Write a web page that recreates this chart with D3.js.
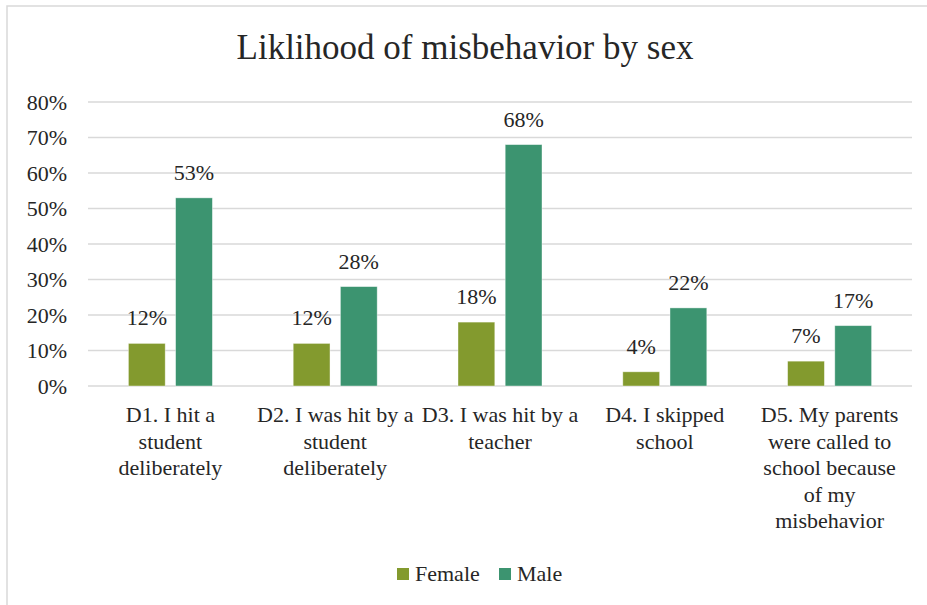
<!DOCTYPE html>
<html>
<head>
<meta charset="utf-8">
<script src="https://cdn.jsdelivr.net/npm/d3@7"></script>
</head>
<body style="margin:0">
<svg id="s" width="927" height="605"></svg>
<script>
// Survey items (each entry is one wrapped label line list)
const categories = [
  ["D1. I hit a", "student", "deliberately"],
  ["D2. I was hit by a", "student", "deliberately"],
  ["D3. I was hit by a", "teacher"],
  ["D4. I skipped", "school"],
  ["D5. My parents", "were called to", "school because", "of my", "misbehavior"]
];
const seriesNames = ["Female", "Male"];
const femaleValues = [12, 12, 18, 4, 7];
const maleValues = [53, 28, 68, 22, 17];
const yTicks = [0, 10, 20, 30, 40, 50, 60, 70, 80];
const colors = ["#839a2e", "#3c9470"];

const FONT = "Liberation Serif";
const TEXT_COLOR = "#262626";

const svg = d3.select("#s").attr("font-family", FONT);
const margin = { left: 88, right: 15, top: 102, bottom: 219 };
const W = 927, H = 605;
const plotW = W - margin.left - margin.right;
const plotH = H - margin.top - margin.bottom;

// Outer chart border
svg.append("rect")
  .attr("x", 7).attr("y", 6).attr("width", 940).attr("height", 640)
  .attr("fill", "none").attr("stroke", "#d9d9d9").attr("stroke-width", 1.5);

// Title
svg.append("text")
  .attr("x", 465).attr("y", 59)
  .attr("text-anchor", "middle")
  .style("font-family", FONT)
  .style("font-size", "35px")
  .style("fill", TEXT_COLOR)
  .text("Liklihood of misbehavior by sex");

const g = svg.append("g").attr("transform", `translate(${margin.left},${margin.top})`);

const x0 = d3.scaleBand().domain(d3.range(categories.length)).range([0, plotW]).paddingInner(0).paddingOuter(0);
const x1 = d3.scaleBand().domain(seriesNames).range([0, 84]).paddingInner(0.22);
const y = d3.scaleLinear().domain([0, 80]).range([plotH, 0]);

// Gridlines
g.append("g")
  .selectAll("line")
  .data(yTicks)
  .join("line")
  .attr("x1", 0).attr("x2", plotW)
  .attr("y1", d => y(d)).attr("y2", d => y(d))
  .attr("stroke", "#d9d9d9").attr("stroke-width", 1.5);

// Y axis labels
const yAxis = d3.axisLeft(y).tickValues(yTicks).tickFormat(d => d + "%").tickSize(0).tickPadding(21);
const ya = g.append("g").call(yAxis).attr("font-family", FONT);
ya.select(".domain").remove();
ya.selectAll("text")
  .style("font-family", FONT)
  .style("font-size", "22px")
  .style("fill", TEXT_COLOR);

// Bars
const rows = categories.map((c, i) => ({ i, vals: [femaleValues[i], maleValues[i]] }));
const groups = g.selectAll(".grp")
  .data(rows)
  .join("g")
  .attr("class", "grp")
  .attr("transform", d => `translate(${x0(d.i) + x0.bandwidth() / 2 - 42},0)`);

groups.selectAll("rect")
  .data(d => d.vals.map((v, k) => ({ key: seriesNames[k], v, k })))
  .join("rect")
  .attr("x", d => x1(d.key))
  .attr("width", x1.bandwidth())
  .attr("y", d => y(d.v))
  .attr("height", d => plotH - y(d.v))
  .attr("fill", d => colors[d.k])
  .attr("stroke", "#ffffff").attr("stroke-opacity", 0.5).attr("stroke-width", 0.8);

// Value labels
groups.selectAll(".val")
  .data(d => d.vals.map((v, k) => ({ key: seriesNames[k], v, k })))
  .join("text")
  .attr("class", "val")
  .attr("x", d => x1(d.key) + x1.bandwidth() / 2)
  .attr("y", d => y(d.v) - 18)
  .attr("text-anchor", "middle")
  .style("font-family", FONT)
  .style("font-size", "22px")
  .style("fill", TEXT_COLOR)
  .text(d => d.v + "%");

// Category labels, one tspan per wrapped line
const catG = g.selectAll(".cat")
  .data(categories)
  .join("text")
  .attr("class", "cat")
  .attr("text-anchor", "middle")
  .attr("transform", (d, i) => `translate(${x0(i) + x0.bandwidth() / 2},${plotH + 36})`)
  .style("font-family", FONT)
  .style("font-size", "22px")
  .style("fill", TEXT_COLOR);
catG.selectAll("tspan")
  .data(d => d)
  .join("tspan")
  .attr("x", 0)
  .attr("y", (d, j) => j * 26.5)
  .text(d => d);

// Legend
const legend = svg.append("g").attr("transform", "translate(0,574)");
const legendItems = [
  { name: "Female", x: 397 },
  { name: "Male", x: 499 }
];
legendItems.forEach((it, k) => {
  legend.append("rect")
    .attr("x", it.x).attr("y", -6).attr("width", 12).attr("height", 12)
    .attr("fill", colors[k]);
  legend.append("text")
    .attr("x", it.x + 18).attr("y", 7)
    .style("font-family", FONT)
    .style("font-size", "22px")
    .style("fill", TEXT_COLOR)
    .text(it.name);
});
</script>
</body>
</html>
